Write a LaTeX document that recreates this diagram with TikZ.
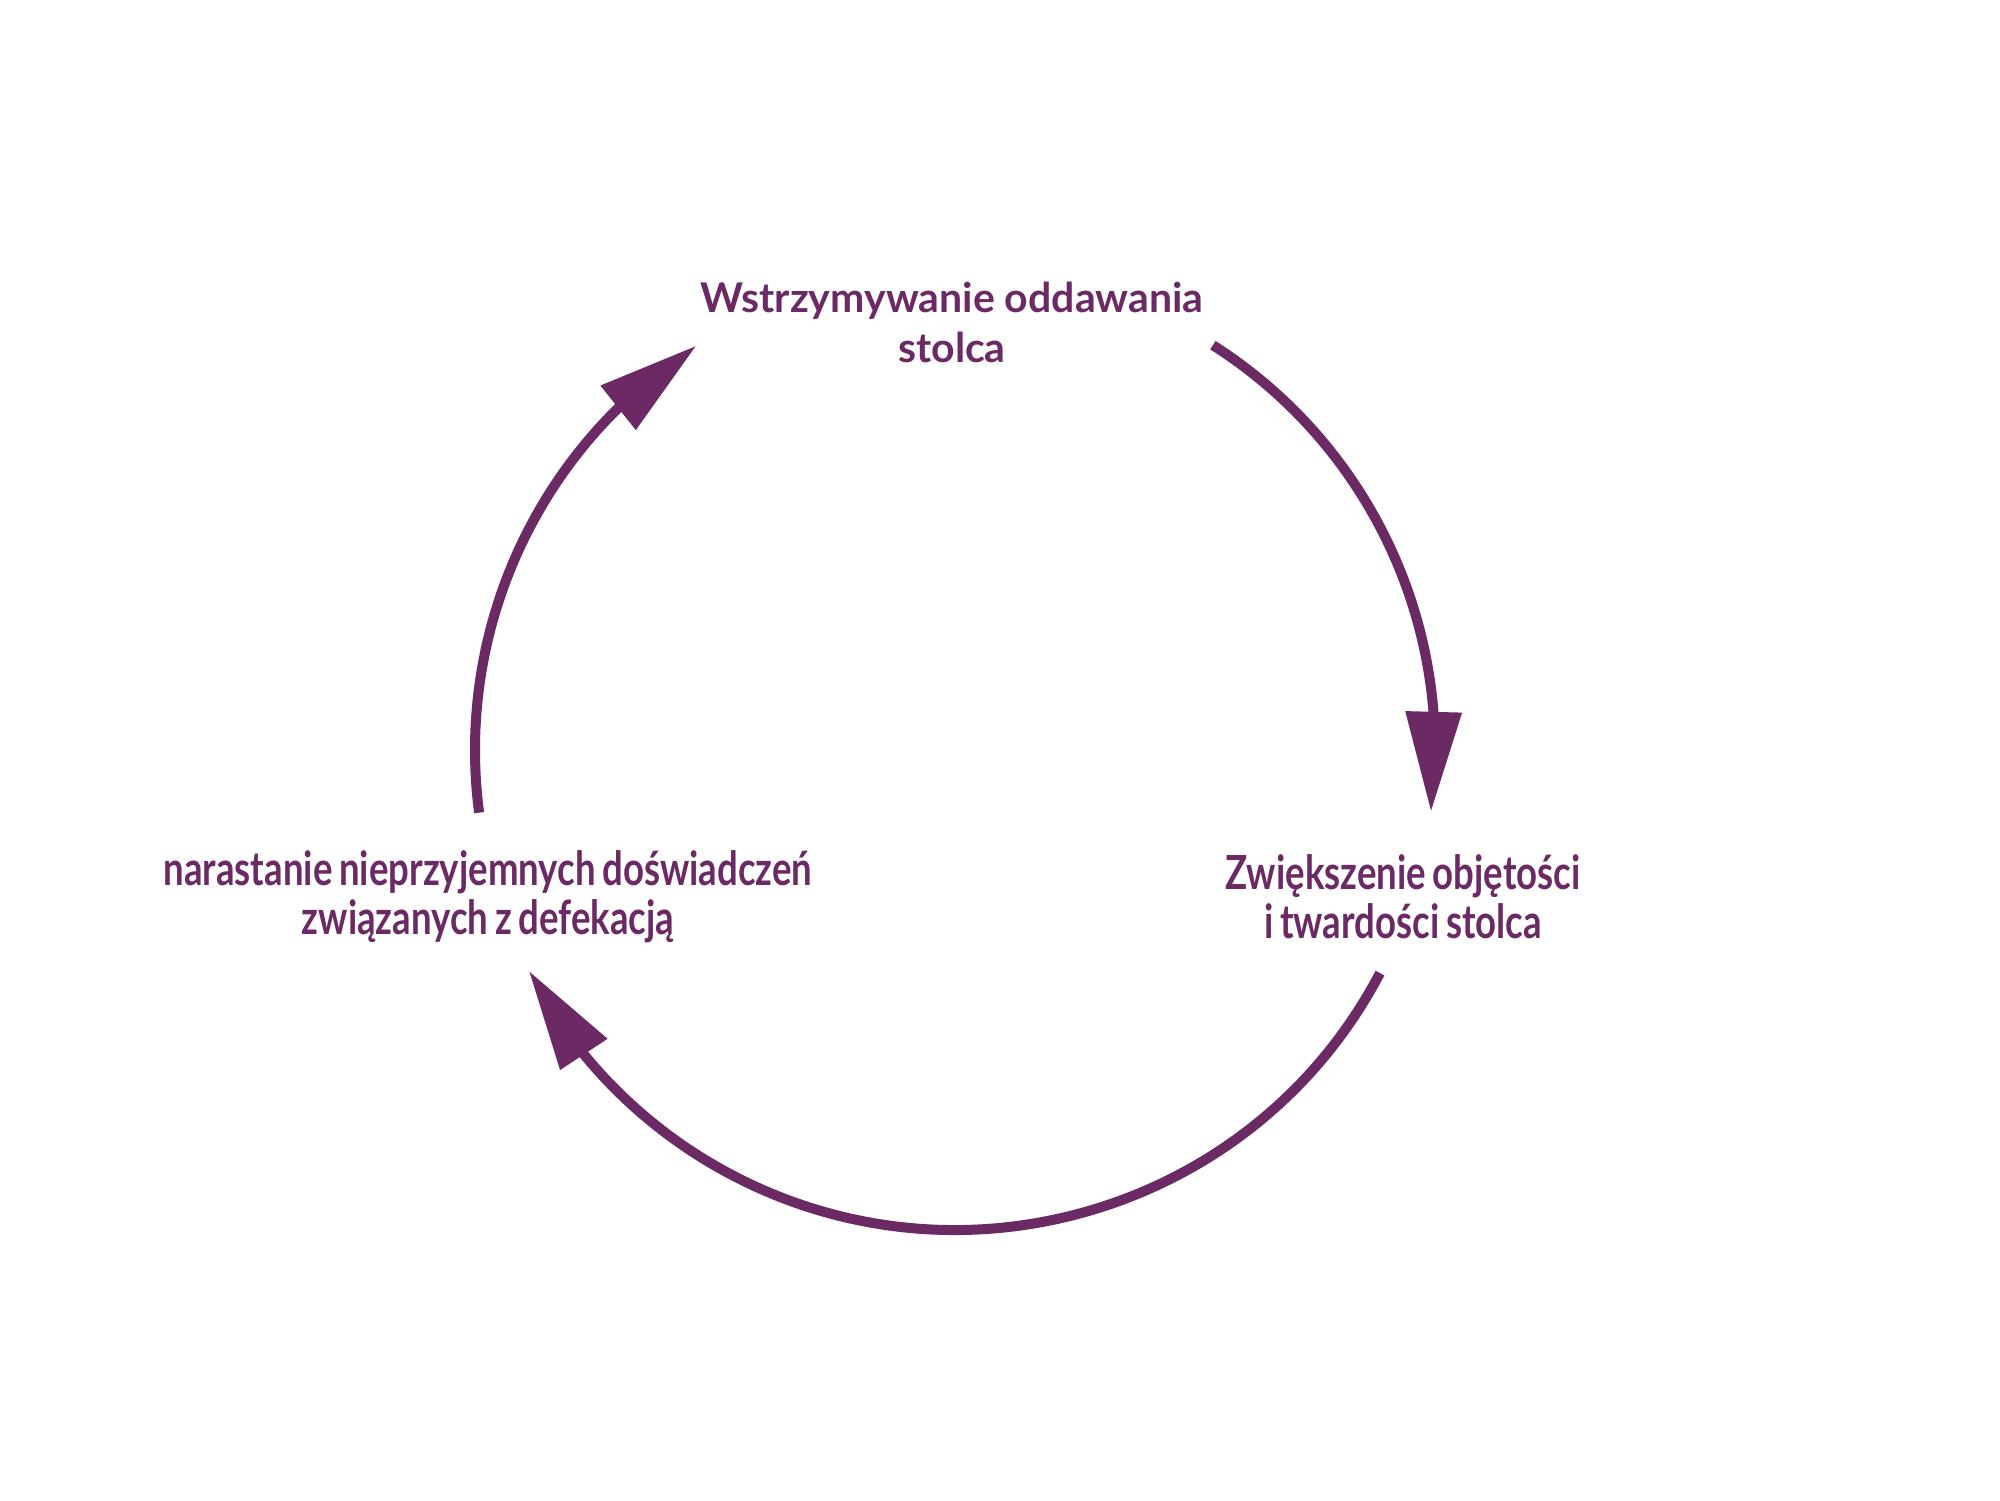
\documentclass[tikz,border=0pt]{standalone}
\usepackage{fontspec}
\setmainfont{Lato}
\newfontfamily\latocond{Lato}[FakeStretch=0.778, WordSpace=0.75]
\usetikzlibrary{arrows.meta,bending,calc}
\definecolor{plum}{RGB}{108,42,101}
\tikzset{
  title/.style={text=plum, align=center, font=\fontsize{41}{50}\selectfont\bfseries, inner sep=0pt},
  lbl/.style={text=plum, align=center, font=\fontsize{47}{49}\selectfont\latocond\bfseries, inner sep=0pt},
  cyc/.style={draw=plum, line width=10pt, line cap=butt,
    -{Triangle[length=100pt,width=54pt,flex]}}
}
\begin{document}
\begin{tikzpicture}[x=1pt,y=1pt]
\fill[white] (0,0) rectangle (2000,1500);
\useasboundingbox (0,0) rectangle (2000,1500);
\coordinate (ctr) at (955,750);
\node[title] (top) at (952,1178) {Wstrzymywanie oddawania\\stolca};
\node[lbl] (right) at (1403,603) {Zwiększenie objętości\\i twardości stolca};
\node[lbl] (left) at (488,603) {narastanie nieprzyjemnych doświadczeń\\związanych z defekacją};
\coordinate (a1) at ($(ctr)+(57.5:480)$);
\coordinate (a2) at ($(ctr)+(-27.7:480)$);
\coordinate (a3) at ($(ctr)+(187.5:480)$);
\draw[cyc] (a1) arc[start angle=57.5, end angle=-7.4, radius=480];
\draw[cyc] (a2) arc[start angle=-27.7, end angle=-152.6, radius=480];
\draw[cyc] (a3) arc[start angle=187.5, end angle=122.6, radius=480];
\end{tikzpicture}
\end{document}
